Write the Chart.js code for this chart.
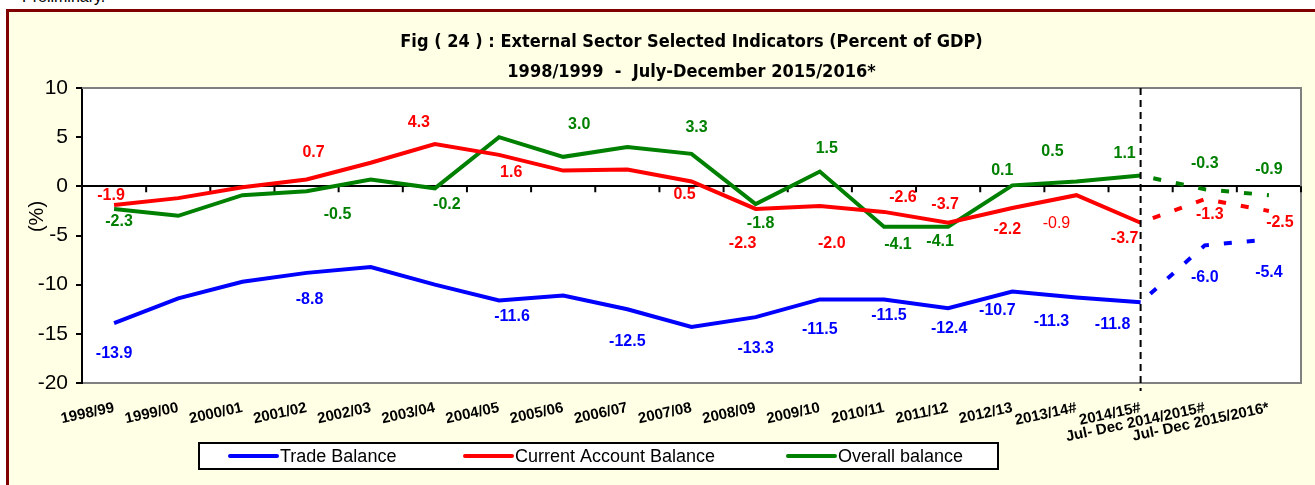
<!DOCTYPE html>
<html>
<head>
<meta charset="utf-8">
<script src="https://cdn.jsdelivr.net/npm/chart.js@4.4.1/dist/chart.umd.min.js"></script>
<style>
  html, body { margin: 0; padding: 0; width: 1315px; height: 485px; overflow: hidden; background: #fff; }
  #note { position: absolute; left: 22px; top: -11px; font: 16px/16px "Liberation Sans", Arial, sans-serif; color: #000; }
  #frame { position: absolute; left: 6px; top: 9px; width: 1330px; height: 500px; border: 3px solid #800000; background: #FFFFE5; }
  #chart { position: absolute; left: 0; top: 0; }
</style>
</head>
<body>
<div id="note">Preliminary.</div>
<div id="frame"></div>
<canvas id="chart" width="1315" height="485"></canvas>
<script>
const categories = ['1998/99', '1999/00', '2000/01', '2001/02', '2002/03', '2003/04', '2004/05', '2005/06',
  '2006/07', '2007/08', '2008/09', '2009/10', '2010/11', '2011/12', '2012/13', '2013/14#', '2014/15#',
  'Jul- Dec 2014/2015#', 'Jul- Dec 2015/2016*'];
const tradeBalance = [-13.9, -11.4, -9.7, -8.8, -8.2, -10.0, -11.6, -11.1, -12.5, -14.3, -13.3, -11.5, -11.5, -12.4, -10.7, -11.3, -11.8, -6.0, -5.4];
const currentAccount = [-1.9, -1.2, -0.1, 0.7, 2.4, 4.3, 3.2, 1.6, 1.7, 0.5, -2.3, -2.0, -2.6, -3.7, -2.2, -0.9, -3.7, -1.3, -2.5];
const overallBalance = [-2.3, -3.0, -0.9, -0.5, 0.7, -0.2, 5.0, 3.0, 4.0, 3.3, -1.8, 1.5, -4.1, -4.1, 0.1, 0.5, 1.1, -0.3, -0.9];
const yMin = -20, yMax = 10, yStep = 5;
const dashedFrom = 16; // half-year figures drawn dashed after 2014/15#

// where each value label sits relative to its point [dx, dy, weight]
const tradeLabelOffsets = {0: [0, 31], 3: [3, 27], 6: [13, 16], 8: [0, 32], 10: [0, 31], 11: [0, 30], 12: [5, 16],
  13: [1, 20], 14: [-15, 19], 15: [-25, 24], 16: [-28, 22], 17: [0, 32], 18: [0, 33]};
const currentLabelOffsets = {0: [-3, -9], 3: [7, -27], 5: [-16, -21], 7: [-52, 2], 9: [-7, 13], 10: [-13, 35],
  11: [12, 38], 12: [19, -14], 13: [-3, -18], 14: [-5, 22], 15: [-20, 28, 'normal'], 16: [-16, 16], 17: [5, 15], 18: [11, 12]};
const overallLabelOffsets = {0: [5, 13], 3: [31, 23], 5: [12, 16], 7: [16, -32], 9: [5, -26], 10: [5, 20], 11: [7, -23],
  12: [14, 18], 13: [-8, 15], 14: [-10, -15], 15: [-24, -30], 16: [-16, -22], 17: [0, -26], 18: [0, -26]};
const labelOffsets = [tradeLabelOffsets, currentLabelOffsets, overallLabelOffsets];

const FONT = '"Liberation Sans", Arial, sans-serif';

const decorations = {
  id: 'decorations',
  beforeDraw(chart) {
    const {ctx, chartArea: a} = chart;
    ctx.save();
    ctx.fillStyle = '#fff';
    ctx.fillRect(a.left, a.top, a.right - a.left, a.bottom - a.top);
    ctx.restore();
  },
  beforeDatasetsDraw(chart) {
    const {ctx, chartArea: a} = chart;
    const x = chart.scales.x, y = chart.scales.y;
    ctx.save();
    // grey frame (top and right)
    ctx.strokeStyle = '#808080';
    ctx.lineWidth = 2;
    ctx.beginPath();
    ctx.moveTo(a.left, a.top);
    ctx.lineTo(a.right, a.top);
    ctx.lineTo(a.right, a.bottom);
    ctx.stroke();
    // tick marks along the zero line
    const zero = y.getPixelForValue(0);
    const half = (x.getPixelForValue(1) - x.getPixelForValue(0)) / 2;
    ctx.strokeStyle = '#000';
    ctx.beginPath();
    for (let i = 0; i < categories.length; i++) {
      const px = x.getPixelForValue(i) + half;
      ctx.moveTo(px, zero);
      ctx.lineTo(px, zero + 6);
    }
    ctx.stroke();
    // y axis title
    ctx.fillStyle = '#000';
    ctx.font = '20px ' + FONT;
    ctx.textAlign = 'center';
    ctx.textBaseline = 'middle';
    ctx.translate(a.left - 45, (a.top + a.bottom) / 2 - 19);
    ctx.rotate(-Math.PI / 2);
    ctx.fillText('(%)', 0, 0);
    ctx.restore();
  },
  afterDatasetsDraw(chart) {
    const {ctx, chartArea: a} = chart;
    const x = chart.scales.x;
    const px = x.getPixelForValue(dashedFrom);
    ctx.save();
    ctx.strokeStyle = '#000';
    ctx.lineWidth = 2;
    ctx.setLineDash([7, 5]);
    ctx.beginPath();
    ctx.moveTo(px, a.top);
    ctx.lineTo(px, a.bottom + 8);
    ctx.stroke();
    ctx.restore();
  }
};

const valueLabels = {
  id: 'valueLabels',
  afterDatasetsDraw(chart) {
    const ctx = chart.ctx;
    ctx.save();
    ctx.textAlign = 'center';
    ctx.textBaseline = 'middle';
    chart.data.datasets.forEach((ds, d) => {
      const points = chart.getDatasetMeta(d).data;
      Object.entries(labelOffsets[d]).forEach(([i, off]) => {
        const pt = points[i];
        ctx.font = (off[2] || 'bold') + ' 16px ' + FONT;
        ctx.fillStyle = ds.borderColor;
        ctx.fillText(ds.data[i].toFixed(1), pt.x + off[0], pt.y + off[1]);
      });
    });
    ctx.restore();
  }
};

const boxLegend = {
  id: 'boxLegend',
  afterDraw(chart) {
    const ctx = chart.ctx;
    const box = {x: 199, y: 443, w: 799, h: 26};
    const itemX = [230, 465, 788];
    const cy = box.y + box.h / 2;
    ctx.save();
    ctx.fillStyle = '#fff';
    ctx.fillRect(box.x, box.y, box.w, box.h);
    ctx.strokeStyle = '#000';
    ctx.lineWidth = 2;
    ctx.strokeRect(box.x, box.y, box.w, box.h);
    ctx.font = '18px ' + FONT;
    ctx.textBaseline = 'middle';
    chart.data.datasets.forEach((ds, i) => {
      ctx.strokeStyle = ds.borderColor;
      ctx.lineWidth = 4;
      ctx.lineCap = 'round';
      ctx.beginPath();
      ctx.moveTo(itemX[i], cy);
      ctx.lineTo(itemX[i] + 47, cy);
      ctx.stroke();
      ctx.fillStyle = '#000';
      ctx.fillText(ds.label, itemX[i] + 50, cy + 1);
    });
    ctx.restore();
  }
};

const dashAfter = ctx => ctx.p0DataIndex >= dashedFrom ? [8, 15] : undefined;

function series(label, data, color) {
  return {
    label: label,
    data: data,
    borderColor: color,
    backgroundColor: color,
    borderWidth: 4,
    pointRadius: 0,
    tension: 0,
    segment: {borderDash: dashAfter, borderDashOffset: 10}
  };
}

new Chart(document.getElementById('chart').getContext('2d'), {
  type: 'line',
  data: {
    labels: categories,
    datasets: [
      series('Trade Balance', tradeBalance, '#0000FF'),
      series('Current Account Balance', currentAccount, '#FF0000'),
      series('Overall balance', overallBalance, '#008000')
    ]
  },
  options: {
    responsive: false,
    animation: false,
    layout: {padding: {left: 0, right: 14, top: 0, bottom: 0}},
    plugins: {
      legend: {display: false},
      tooltip: {enabled: false},
      title: {
        display: true,
        fullSize: false,
        text: ['Fig ( 24 ) : External Sector Selected Indicators (Percent of GDP)', '1998/1999  -  July-December 2015/2016*'],
        color: '#000',
        font: {family: '"DejaVu Sans Condensed", "DejaVu Sans", sans-serif', size: 18, weight: 'bold', lineHeight: '30px'},
        padding: {top: 27, bottom: 1}
      }
    },
    scales: {
      x: {
        offset: true,
        grid: {display: false, drawTicks: false},
        border: {color: '#808080', width: 2},
        ticks: {autoSkip: false, minRotation: 12, maxRotation: 12, padding: 16, color: '#000',
          font: {family: FONT, size: 15, weight: 'bold'}},
        afterFit(scale) { scale.height = 102; }
      },
      y: {
        min: yMin,
        max: yMax,
        ticks: {stepSize: yStep, color: '#000', padding: 8, font: {family: FONT, size: 21}},
        grid: {
          color: c => c.tick && c.tick.value === 0 ? '#000' : 'rgba(0,0,0,0)',
          lineWidth: 2,
          tickColor: '#000',
          tickLength: 6,
          tickWidth: 2
        },
        border: {color: '#000', width: 2},
        afterFit(scale) { scale.width = 82; }
      }
    }
  },
  plugins: [decorations, valueLabels, boxLegend]
});
</script>
</body>
</html>
